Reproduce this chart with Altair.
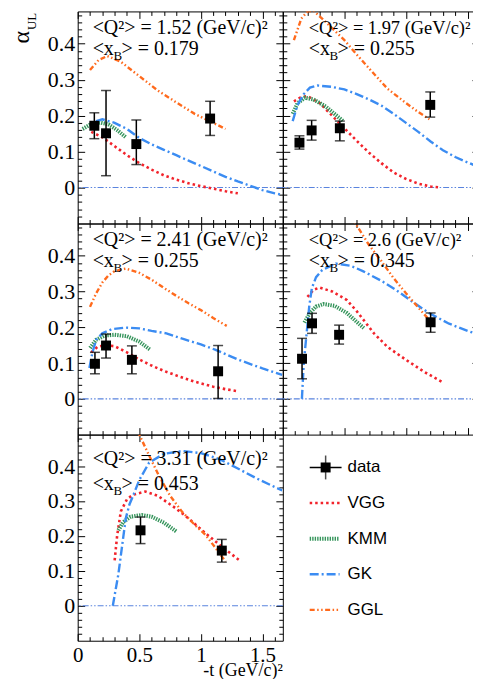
import altair as alt
import pandas as pd

SERIF = "Liberation Serif"
SANS = "Liberation Sans"

# ---------------- annotations ----------------
Q2_LABELS = ["1.52", "1.97", "2.41", "2.6", "3.31"]
XB_LABELS = ["0.179", "0.255", "0.255", "0.345", "0.453"]
MODELS = ["VGG", "KMM", "GK", "GGL"]
LEGEND_NAMES = ["data", "VGG", "KMM", "GK", "GGL"]
Y_TICK_LABELS = [0, 0.1, 0.2, 0.3, 0.4]
X_TICK_LABELS = [0, 0.5, 1, 1.5]
X_TITLE = "-t (GeV/c)²"

# ---------------- panel 1: <Q2>=1.52 ----------------
p1_t = [0.135, 0.23, 0.476, 1.075]
p1_a = [0.172, 0.151, 0.121, 0.192]
p1_lo = [0.136, 0.033, 0.064, 0.145]
p1_hi = [0.208, 0.27, 0.188, 0.24]
p1_vgg_t = [0.11, 0.2, 0.3, 0.4, 0.5, 0.6, 0.7, 0.8, 0.9, 1.0, 1.1, 1.2, 1.3]
p1_vgg_a = [0.155, 0.14, 0.115, 0.09, 0.068, 0.05, 0.034, 0.022, 0.012, 0.004, -0.003, -0.01, -0.016]
p1_kmm_t = [0.04, 0.1, 0.18, 0.25, 0.32, 0.39]
p1_kmm_a = [0.163, 0.175, 0.181, 0.176, 0.16, 0.14]
p1_gk_t = [0.15, 0.2, 0.3, 0.4, 0.5, 0.6, 0.7, 0.8, 0.9, 1.0, 1.1, 1.2, 1.3, 1.4, 1.5, 1.6, 1.66]
p1_gk_a = [0.185, 0.19, 0.18, 0.163, 0.138, 0.12, 0.105, 0.09, 0.075, 0.06, 0.045, 0.03, 0.017, 0.005, -0.007, -0.016, -0.02]
p1_ggl_t = [0.10, 0.17, 0.24, 0.35, 0.5, 0.65, 0.8, 0.95, 1.1, 1.2]
p1_ggl_a = [0.327, 0.355, 0.366, 0.35, 0.31, 0.27, 0.237, 0.205, 0.18, 0.163]

# ---------------- panel 2: <Q2>=1.97 ----------------
p2_t = [0.135, 0.234, 0.463, 1.197]
p2_a = [0.125, 0.159, 0.165, 0.23]
p2_lo = [0.107, 0.132, 0.13, 0.196]
p2_hi = [0.144, 0.187, 0.185, 0.266]
p2_vgg_t = [0.09, 0.14, 0.2, 0.3, 0.4, 0.5, 0.6, 0.7, 0.8, 0.9, 1.0, 1.1, 1.2, 1.28]
p2_vgg_a = [0.24, 0.25, 0.255, 0.235, 0.2, 0.165, 0.13, 0.097, 0.068, 0.042, 0.024, 0.011, 0.003, 0.0]
p2_kmm_t = [0.08, 0.12, 0.18, 0.25, 0.35, 0.42, 0.49]
p2_kmm_a = [0.205, 0.235, 0.25, 0.245, 0.225, 0.205, 0.185]
p2_gk_t = [0.08, 0.12, 0.17, 0.22, 0.28, 0.4, 0.5, 0.6, 0.7, 0.8, 0.9, 1.0, 1.1, 1.2, 1.3, 1.4, 1.5, 1.6]
p2_gk_a = [0.185, 0.23, 0.26, 0.278, 0.284, 0.28, 0.273, 0.26, 0.245, 0.228, 0.205, 0.18, 0.155, 0.128, 0.104, 0.085, 0.07, 0.056]
p2_ggl_t = [0.09, 0.15, 0.2, 0.25, 0.35, 0.5, 0.6, 0.72, 0.85, 1.0, 1.1, 1.19]
p2_ggl_a = [0.41, 0.47, 0.49, 0.492, 0.46, 0.41, 0.37, 0.324, 0.275, 0.235, 0.21, 0.19]

# ---------------- panel 3: <Q2>=2.41 ----------------
p3_t = [0.14, 0.23, 0.44, 1.14]
p3_a = [0.098, 0.149, 0.109, 0.077]
p3_lo = [0.07, 0.114, 0.07, 0.001]
p3_hi = [0.13, 0.181, 0.148, 0.149]
p3_vgg_t = [0.11, 0.16, 0.22, 0.3, 0.4, 0.5, 0.6, 0.7, 0.82, 0.95, 1.1, 1.2, 1.3]
p3_vgg_a = [0.13, 0.145, 0.15, 0.147, 0.13, 0.11, 0.093, 0.078, 0.063, 0.048, 0.034, 0.027, 0.021]
p3_kmm_t = [0.1, 0.15, 0.22, 0.3, 0.4, 0.5, 0.59]
p3_kmm_a = [0.142, 0.165, 0.177, 0.179, 0.175, 0.16, 0.137]
p3_gk_t = [0.095, 0.12, 0.15, 0.2, 0.28, 0.39, 0.5, 0.6, 0.72, 0.85, 1.0, 1.12, 1.3, 1.5, 1.66]
p3_gk_a = [0.086, 0.13, 0.165, 0.183, 0.195, 0.199, 0.197, 0.19, 0.183, 0.168, 0.152, 0.137, 0.11, 0.085, 0.067]
p3_ggl_t = [0.1, 0.15, 0.2, 0.25, 0.3, 0.39, 0.5, 0.6, 0.7, 0.8, 0.9, 1.0, 1.1, 1.21]
p3_ggl_a = [0.257, 0.295, 0.325, 0.345, 0.357, 0.364, 0.352, 0.333, 0.31, 0.288, 0.267, 0.248, 0.226, 0.204]

# ---------------- panel 4: <Q2>=2.6 ----------------
p4_t = [0.156, 0.237, 0.457, 1.2]
p4_a = [0.112, 0.211, 0.179, 0.214]
p4_lo = [0.056, 0.183, 0.153, 0.186]
p4_hi = [0.169, 0.239, 0.206, 0.24]
p4_vgg_t = [0.2, 0.25, 0.3, 0.4, 0.52, 0.6, 0.74, 0.85, 1.0, 1.15, 1.3]
p4_vgg_a = [0.285, 0.305, 0.311, 0.3, 0.276, 0.245, 0.183, 0.145, 0.109, 0.075, 0.046]
p4_kmm_t = [0.175, 0.22, 0.27, 0.33, 0.42, 0.52, 0.6, 0.66]
p4_kmm_a = [0.213, 0.24, 0.258, 0.265, 0.26, 0.24, 0.215, 0.197]
p4_gk_t = [0.155, 0.17, 0.196, 0.215, 0.236, 0.27, 0.32, 0.43, 0.55, 0.65, 0.8, 0.92, 1.05, 1.19, 1.35, 1.5, 1.6]
p4_gk_a = [0.0, 0.1, 0.193, 0.26, 0.31, 0.34, 0.36, 0.378, 0.372, 0.357, 0.33, 0.304, 0.272, 0.239, 0.21, 0.19, 0.178]
p4_ggl_t = [0.55, 0.59, 0.7, 0.8, 0.9, 1.0, 1.1, 1.2]
p4_ggl_a = [0.512, 0.49, 0.43, 0.385, 0.337, 0.295, 0.255, 0.216]

# ---------------- panel 5: <Q2>=3.31 ----------------
p5_t = [0.51, 1.17]
p5_a = [0.216, 0.158]
p5_lo = [0.178, 0.125]
p5_hi = [0.254, 0.19]
p5_vgg_t = [0.3, 0.32, 0.35, 0.4, 0.45, 0.55, 0.65, 0.8, 0.9, 1.04, 1.15, 1.31]
p5_vgg_a = [0.13, 0.2, 0.27, 0.305, 0.318, 0.327, 0.315, 0.278, 0.25, 0.207, 0.175, 0.131]
p5_kmm_t = [0.33, 0.37, 0.43, 0.52, 0.6, 0.7, 0.8]
p5_kmm_a = [0.216, 0.24, 0.255, 0.26, 0.255, 0.238, 0.213]
p5_gk_t = [0.285, 0.31, 0.33, 0.36, 0.39, 0.42, 0.45, 0.5, 0.58, 0.7, 0.85, 1.0, 1.15, 1.3, 1.45, 1.66]
p5_gk_a = [0.0, 0.05, 0.09, 0.17, 0.25, 0.29, 0.315, 0.36, 0.41, 0.435, 0.443, 0.437, 0.42, 0.393, 0.365, 0.33]
p5_ggl_t = [0.48, 0.5, 0.58, 0.66, 0.75, 0.85, 0.95, 1.04, 1.12, 1.2]
p5_ggl_a = [0.51, 0.49, 0.43, 0.372, 0.315, 0.268, 0.232, 0.202, 0.165, 0.127]

# ---------------- styles ----------------
STYLE = {
    "VGG": dict(color="#f2232b", strokeDash=[2.5, 3], strokeWidth=2.6),
    "KMM": dict(color="#36955c", strokeDash=[1.4, 1.1], strokeWidth=4),
    "GK": dict(color="#3b8cf2", strokeDash=[9, 3, 2, 3], strokeWidth=2.4),
    "GGL": dict(color="#ff6a1c", strokeDash=[5, 2.5, 1.5, 2.5, 1.5, 2.5], strokeWidth=2.4),
}
ZERO_COLOR = "#5a84de"
YDOM = [-0.1, 0.49]
Y_MINOR = [round(-0.08 + 0.02 * i, 2) for i in range(29)]
Y_MAJOR_TEST = "abs(datum.value*10 - round(datum.value*10)) < 0.01"
X_MAJOR_TEST = "abs(datum.value*2 - round(datum.value*2)) < 0.01"
PX_PER_T = 123.7
W_L, W_R = 206, 197
ONE = alt.Data(values=[{}])


def points_df(t, a, lo, hi):
    return pd.DataFrame({"t": t, "a": a, "lo": lo, "hi": hi})


def curves_df(vgg, kmm, gk, ggl):
    rows = []
    for name, (ts, vs) in zip(MODELS, [vgg, kmm, gk, ggl]):
        for i, (tt, vv) in enumerate(zip(ts, vs)):
            rows.append({"model": name, "t": tt, "a": vv, "i": i})
    return pd.DataFrame(rows)


def tick_axis(orient, offset, values, test):
    return alt.Axis(orient=orient, offset=offset, values=values, labels=False,
                    domain=False, grid=False, title=None, ticks=True,
                    tickColor="black", tickWidth=1,
                    tickSize={"condition": {"test": test, "value": 7}, "value": 4})


def text(s, x, y, size, **kw):
    opts = dict(font=SERIF, fontSize=size, align="left", baseline="alphabetic", color="black")
    opts.update(kw)
    return alt.Chart(ONE).mark_text(text=s, **opts).encode(x=alt.value(x), y=alt.value(y))


def panel(k, pts, curves, W, H, left_labels, bottom_labels, dx, dy1, dy2, qsize=20, ytitle=False):
    xmax = W / PX_PER_T
    xminor = [round(0.1 * i, 1) for i in range(int(xmax * 10 + 1e-6) + 1)]
    xs = alt.Scale(domain=[0, xmax], nice=False, zero=False)
    ys = alt.Scale(domain=YDOM, nice=False, zero=False)

    layers = [
        alt.Chart(ONE).mark_rule(color=ZERO_COLOR, strokeWidth=1.1,
                                 strokeDash=[6, 2, 1.5, 2, 1.5, 2]).encode(
            y=alt.Y(datum=0, scale=ys, axis=None))
    ]
    for m in MODELS:
        layers.append(
            alt.Chart(curves).transform_filter(alt.datum.model == m)
            .mark_line(clip=True, **STYLE[m])
            .encode(x=alt.X("t:Q", scale=xs, axis=None),
                    y=alt.Y("a:Q", scale=ys, axis=None),
                    order="i:Q"))

    base = alt.Chart(pts)
    layers.append(base.mark_rule(color="black", strokeWidth=1.5).encode(
        x=alt.X("t:Q", scale=xs, axis=tick_axis("bottom", -H, xminor, X_MAJOR_TEST)),
        y=alt.Y("lo:Q", scale=ys, axis=tick_axis("left", -W, Y_MINOR, Y_MAJOR_TEST)),
        y2="hi:Q"))
    layers.append(base.mark_tick(orient="horizontal", size=10, thickness=1.5, color="black").encode(
        x=alt.X("t:Q", scale=xs, axis=tick_axis("top", -H, xminor, X_MAJOR_TEST)),
        y=alt.Y("lo:Q", scale=ys, axis=tick_axis("right", -W, Y_MINOR, Y_MAJOR_TEST))))
    layers.append(base.mark_tick(orient="horizontal", size=10, thickness=1.5, color="black").encode(
        x=alt.X("t:Q", scale=xs, axis=None),
        y=alt.Y("hi:Q", scale=ys, axis=None)))

    ylab = None
    if left_labels:
        ylab = alt.Axis(orient="left", values=Y_TICK_LABELS, format=".1~f", ticks=False,
                        tickSize=0, domain=False, grid=False, title=None,
                        labelFont=SERIF, labelFontSize=22, labelPadding=3, labelColor="black")
    xlab = None
    if bottom_labels:
        xlab = alt.Axis(orient="bottom", values=X_TICK_LABELS, format=".1~f", ticks=False,
                        tickSize=0, domain=False, grid=False, labelFlush=False, title=None,
                        labelFont=SERIF, labelFontSize=21, labelPadding=4, labelColor="black")
    layers.append(base.mark_square(size=100, color="black", opacity=1).encode(
        x=alt.X("t:Q", scale=xs, axis=xlab),
        y=alt.Y("a:Q", scale=ys, axis=ylab)))

    layers.append(text(f"<Q²> = {Q2_LABELS[k]} (GeV/c)²", dx, dy1, qsize))
    layers.append(text("<x", dx, dy2, 20))
    layers.append(text("B", dx + 21, dy2 + 5, 13))
    layers.append(text(f"> = {XB_LABELS[k]}", dx + 29, dy2, 20))
    if ytitle:
        layers.append(text("α", -49, 26, 24, angle=270, align="center"))
        layers.append(text("UL", -42, 10, 13, angle=270, align="center"))
    if bottom_labels:
        layers.append(text(X_TITLE, W, H + 35, 18, align="right"))

    return alt.layer(*layers).resolve_axis(x="independent", y="independent").properties(width=W, height=H)


c1 = panel(0, points_df(p1_t, p1_a, p1_lo, p1_hi),
           curves_df((p1_vgg_t, p1_vgg_a), (p1_kmm_t, p1_kmm_a), (p1_gk_t, p1_gk_a), (p1_ggl_t, p1_ggl_a)),
           W_L, 213, True, False, 15, 23, 44, ytitle=True)
c2 = panel(1, points_df(p2_t, p2_a, p2_lo, p2_hi),
           curves_df((p2_vgg_t, p2_vgg_a), (p2_kmm_t, p2_kmm_a), (p2_gk_t, p2_gk_a), (p2_ggl_t, p2_ggl_a)),
           W_R, 213, False, False, 26, 23, 44, qsize=18.5)
c3 = panel(2, points_df(p3_t, p3_a, p3_lo, p3_hi),
           curves_df((p3_vgg_t, p3_vgg_a), (p3_kmm_t, p3_kmm_a), (p3_gk_t, p3_gk_a), (p3_ggl_t, p3_ggl_a)),
           W_L, 212, True, False, 15, 23, 44)
c4 = panel(3, points_df(p4_t, p4_a, p4_lo, p4_hi),
           curves_df((p4_vgg_t, p4_vgg_a), (p4_kmm_t, p4_kmm_a), (p4_gk_t, p4_gk_a), (p4_ggl_t, p4_ggl_a)),
           W_R, 212, False, False, 26, 23, 44, qsize=18.5)
c5 = panel(4, points_df(p5_t, p5_a, p5_lo, p5_hi),
           curves_df((p5_vgg_t, p5_vgg_a), (p5_kmm_t, p5_kmm_a), (p5_gk_t, p5_gk_a), (p5_ggl_t, p5_ggl_a)),
           W_L, 207, True, True, 15, 31, 56)

# ---------------- legend panel ----------------
leg_df = pd.DataFrame({"name": LEGEND_NAMES})
ly = alt.Y("name:N", scale=alt.Scale(type="point", domain=LEGEND_NAMES, range=[33, 176], padding=0), axis=None)
LX0, LX1, LXC, LXT = 27, 59, 43, 65
leg_base = alt.Chart(leg_df)
leg_layers = [
    leg_base.transform_filter(alt.datum.name == "data").mark_rule(color="black", strokeWidth=1.5)
    .encode(x=alt.value(LX0), x2=alt.value(LX1), y=ly),
    leg_base.transform_filter(alt.datum.name == "data").mark_tick(orient="vertical", size=24, thickness=1.5, color="black")
    .encode(x=alt.value(LXC), y=ly),
    leg_base.transform_filter(alt.datum.name == "data").mark_square(size=100, color="black", opacity=1)
    .encode(x=alt.value(LXC), y=ly),
]
for m in MODELS:
    leg_layers.append(leg_base.transform_filter(alt.datum.name == m)
                      .mark_rule(**STYLE[m]).encode(x=alt.value(LX0), x2=alt.value(LX1 - 2), y=ly))
leg_layers.append(leg_base.mark_text(align="left", baseline="middle", font=SANS, fontSize=17, color="black")
                  .encode(x=alt.value(LXT), y=ly, text="name:N"))
legend = alt.layer(*leg_layers).properties(width=W_R, height=207,
                                           view=alt.ViewBackground(stroke="transparent"))

chart = alt.concat(c1, c2, c3, c4, c5, legend, columns=2, spacing=0, bounds="flush", align="each").properties(
    padding={"left": 1, "top": 1, "right": -8, "bottom": -3}
).configure_view(stroke="black", strokeWidth=1).configure_axis(labelColor="black", tickColor="black")

chart.save("out.html", embed_options={"renderer": "svg", "actions": False})
